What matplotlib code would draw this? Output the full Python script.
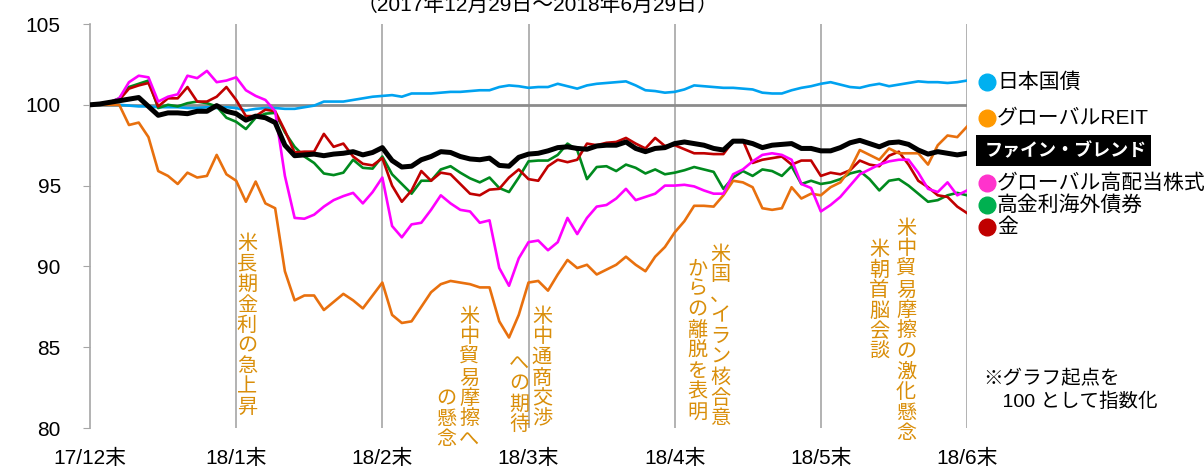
import numpy as np
import matplotlib
matplotlib.use("Agg")
import matplotlib.pyplot as plt
from matplotlib.patches import Rectangle
from matplotlib.lines import Line2D

plt.rcParams["font.family"] = ["Liberation Sans", "Noto Sans CJK JP"]

# month-end tick labels
month_labels = ["17/12末", "18/1末", "18/2末", "18/3末", "18/4末", "18/5末", "18/6末"]
steps_per_month = 15

# index values (start = 100), every 1/15 month
jgb = [100, 100, 100, 100, 99.95, 99.9, 99.9, 99.85, 99.85, 99.85,
       99.8, 99.8, 99.85, 99.8, 99.85, 99.8, 99.65, 99.75, 99.8, 99.8,
       99.75, 99.75, 99.85, 99.95, 100.2, 100.2, 100.2, 100.3, 100.4, 100.5,
       100.55, 100.6, 100.5, 100.7, 100.7, 100.7, 100.75, 100.8, 100.8, 100.85,
       100.9, 100.9, 101.1, 101.2, 101.15, 101.05, 101.1, 101.1, 101.3, 101.15,
       101.0, 101.2, 101.3, 101.35, 101.4, 101.45, 101.2, 100.9, 100.85, 100.75,
       100.8, 100.95, 101.2, 101.15, 101.1, 101.05, 101.05, 101.0, 100.95, 100.75,
       100.7, 100.7, 100.9, 101.05, 101.15, 101.3, 101.4, 101.25, 101.1, 101.05,
       101.2, 101.3, 101.15, 101.25, 101.35, 101.45, 101.4, 101.4, 101.35, 101.4, 101.5]

reit = [100, 100, 100, 100, 98.75, 98.9, 98.0, 95.9, 95.6, 95.1,
        95.8, 95.5, 95.6, 96.9, 95.7, 95.3, 94.0, 95.25, 93.9, 93.6,
        89.7, 87.9, 88.2, 88.2, 87.3, 87.8, 88.3, 87.9, 87.4, 88.2,
        89.0, 87.0, 86.5, 86.6, 87.5, 88.4, 88.9, 89.1, 89.0, 88.9,
        88.7, 88.7, 86.6, 85.6, 87.0, 89.0, 89.1, 88.5, 89.5, 90.4,
        89.9, 90.1, 89.5, 89.8, 90.1, 90.6, 90.1, 89.7, 90.6, 91.2,
        92.1, 92.8, 93.75, 93.75, 93.7, 94.4, 95.3, 95.2, 94.9, 93.6,
        93.5, 93.6, 94.9, 94.2, 94.5, 94.4, 94.9, 95.2, 96.0, 97.2,
        96.9, 96.6, 97.3, 97.0, 97.0, 97.0, 96.3, 97.5, 98.1, 98.0, 98.65]

high_div = [100, 100.05, 100.15, 100.4, 101.4, 101.8, 101.7, 100.2, 100.5, 100.65,
            101.8, 101.65, 102.1, 101.4, 101.5, 101.7, 100.9, 100.55, 100.3, 99.6,
            95.6, 93.0, 92.95, 93.2, 93.7, 94.1, 94.35, 94.55, 93.9, 94.6,
            95.5, 92.5, 91.8, 92.6, 92.7, 93.5, 94.4, 93.9, 93.5, 93.4,
            92.7, 92.85, 89.9, 88.8, 90.5, 91.5, 91.6, 91.0, 91.5, 93.0,
            92.0, 93.0, 93.7, 93.8, 94.2, 94.8, 94.1, 94.3, 94.5, 95.0,
            95.0, 95.05, 94.95, 94.7, 94.5, 94.5, 95.7, 96.0, 96.5, 96.9,
            97.0, 96.9, 96.6, 95.1, 94.85, 93.4, 93.8, 94.3, 95.0, 95.7,
            96.0, 96.3, 96.5, 96.6, 96.6, 95.8, 94.8, 94.6, 95.2, 94.4, 94.7]

hy_bond = [100, 100.05, 100.15, 100.4, 101.1, 101.3, 101.5, 99.8, 100.0, 99.9,
           100.1, 100.2, 100.1, 99.9, 99.2, 98.95, 98.5, 99.2, 99.45, 99.5,
           98.3, 97.4, 96.8, 96.4, 95.75, 95.65, 95.8, 96.6, 96.1, 96.05,
           96.8, 95.7, 95.1, 94.5, 95.3, 95.3, 96.0, 96.2, 95.8, 95.45,
           95.2, 95.5, 94.85, 94.6, 95.5, 96.5, 96.55, 96.55, 96.9, 97.6,
           97.2, 95.4, 96.15, 96.2, 95.9, 96.3, 96.1, 95.75, 96.0, 95.7,
           95.8, 95.95, 96.15, 96.0, 95.85, 94.8, 95.5, 95.9, 95.6, 96.0,
           95.9, 95.6, 96.2, 95.1, 95.3, 95.1, 95.2, 95.4, 95.75, 95.9,
           95.4, 94.7, 95.3, 95.4, 95.0, 94.5, 94.0, 94.1, 94.4, 94.55, 94.4]

gold = [100, 100.05, 100.15, 100.3, 101.0, 101.2, 101.35, 99.9, 100.4, 100.4,
        101.1, 100.2, 100.2, 100.5, 101.1, 100.3, 99.3, 99.3, 99.7, 99.6,
        98.4, 97.05, 97.1, 97.1, 98.2, 97.4, 97.6, 96.8, 96.35, 96.25,
        96.7, 95.0, 94.0, 94.7, 95.9, 95.3, 95.8, 95.7, 95.1, 94.5,
        94.4, 94.75, 94.8, 95.5, 96.0, 95.4, 95.3, 96.2, 96.6, 96.45,
        96.6, 97.6, 97.5, 97.65, 97.7, 97.95, 97.6, 97.3, 97.95, 97.45,
        97.5, 97.25, 97.0, 97.0, 96.95, 96.95, 97.75, 97.8, 96.4, 96.6,
        96.7, 96.8, 96.3, 96.55, 96.55, 95.6, 95.8, 95.7, 95.95, 96.55,
        96.3, 96.2, 96.85, 97.1, 96.3, 95.3, 94.9, 94.4, 94.3, 93.7, 93.3]

blend = [100, 100.05, 100.15, 100.25, 100.35, 100.45, 99.9, 99.35, 99.5, 99.5,
         99.45, 99.6, 99.6, 99.95, 99.6, 99.45, 99.05, 99.3, 99.2, 98.9,
         97.5, 96.85, 96.9, 96.95, 96.85, 96.95, 97.0, 97.1, 96.9, 97.05,
         97.35, 96.55, 96.15, 96.2, 96.6, 96.8, 97.1, 97.05, 96.8, 96.65,
         96.6, 96.7, 96.25, 96.2, 96.75, 96.95, 97.0, 97.15, 97.35, 97.4,
         97.3, 97.25, 97.45, 97.5, 97.5, 97.7, 97.3, 97.1, 97.3, 97.35,
         97.6, 97.7, 97.6, 97.5, 97.3, 97.2, 97.75, 97.75, 97.6, 97.35,
         97.5, 97.55, 97.6, 97.3, 97.3, 97.15, 97.15, 97.35, 97.65, 97.8,
         97.6, 97.4, 97.65, 97.7, 97.55, 97.2, 96.95, 97.1, 97.0, 96.9, 97.0]

legend_names = ["日本国債", "グローバルREIT", "ファイン・ブレンド",
                "グローバル高配当株式", "高金利海外債券", "金"]
legend_colors = ["#00B0F0", "#FF9900", "black", "#FF33CC", "#00B050", "#C00000"]

W, H = 1204, 471


def fx(px):
    return px / W


def fy(py):
    return 1 - py / H


fig = plt.figure(figsize=(W / 100, H / 100), dpi=100)
ax = fig.add_axes([fx(90), fy(428), fx(967) - fx(90), fy(24) - fy(428)])

x = np.arange(len(blend)) / steps_per_month

for m in range(1, 7):
    ax.axvline(m, color="#A6A6A6", lw=1.2, zorder=1)
ax.axhline(100, color="#8C8C8C", lw=2.0, zorder=1)

ax.plot(x, jgb, color="#00A2F0", lw=1.9, zorder=3)
ax.plot(x, hy_bond, color="#008A1E", lw=1.9, zorder=3)
ax.plot(x, gold, color="#C00000", lw=1.9, zorder=3)
ax.plot(x, reit, color="#E8700E", lw=1.9, zorder=3)
ax.plot(x, high_div, color="#FF00FF", lw=1.9, zorder=3)
ax.plot(x, blend, color="black", lw=3.6, zorder=4)

ax.set_xlim(0, 6)
ax.set_ylim(80, 105)
ax.set_yticks([80, 85, 90, 95, 100, 105])
ax.set_xticks(range(7))
ax.set_xticklabels(month_labels)
ax.tick_params(axis="y", length=5, color="#A6A6A6", pad=16, labelsize=15)
ax.tick_params(axis="x", length=0, pad=15, labelsize=15)
for s in ["top", "right", "bottom"]:
    ax.spines[s].set_visible(False)
ax.spines["left"].set_color("#A6A6A6")
ax.spines["left"].set_linewidth(1.2)

# event notes (vertical Japanese text)
note_color = "#D98E0A"


def vtext(px, py, s, bottom=False):
    fig.text(fx(px), fy(py), "\n".join(s), ha="center",
             va="bottom" if bottom else "top", color=note_color,
             fontsize=14.5, linespacing=1.1)


vtext(247, 234, "米長期金利の急上昇")
vtext(469, 307, "米中貿易摩擦へ")
vtext(446, 449, "の懸念", bottom=True)
vtext(542, 307, "米中通商交渉")
vtext(519, 434, "への期待", bottom=True)
vtext(720, 245, "米国、イラン核合意")
vtext(697, 422, "からの離脱を表明", bottom=True)
vtext(906, 219, "米中貿易摩擦の激化懸念")
vtext(879, 240, "米朝首脳会談")

fig.text(fx(983), fy(391), "※グラフ起点を\n　100 として指数化", ha="left", va="center",
         fontsize=14, linespacing=1.3)

# legend at right
legend_y = [82, 118, 151, 183, 205, 227]
for name, col, py in zip(legend_names, legend_colors, legend_y):
    if col == "black":
        fig.add_artist(Rectangle((fx(976), fy(166)), fx(1151) - fx(976), fy(135) - fy(166),
                                 transform=fig.transFigure, facecolor="black", edgecolor="none"))
        fig.text(fx(985), fy(py), name, ha="left", va="center", color="white",
                 fontsize=13, fontweight="bold")
    else:
        fig.add_artist(Line2D([fx(987)], [fy(py)], marker="o", markersize=12,
                              color=col, transform=fig.transFigure))
        fig.text(fx(997), fy(py), name, ha="left", va="center", color="black", fontsize=15)

fig.text(fx(537), fy(15), "（2017年12月29日～2018年6月29日）", ha="center", va="bottom",
         fontsize=15)

fig.savefig("out.png", dpi=100)
